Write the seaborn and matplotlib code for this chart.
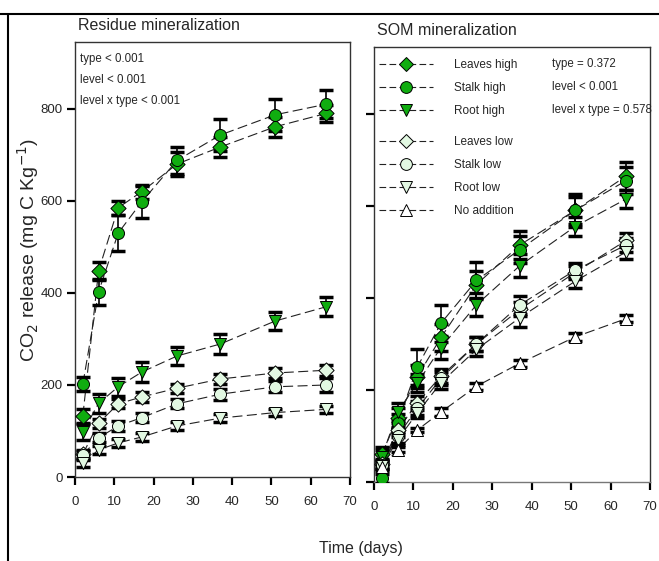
import matplotlib
matplotlib.use("Agg")
import matplotlib.pyplot as plt
from matplotlib.lines import Line2D
import seaborn as sns
import pandas as pd

days = [2, 6, 11, 17, 26, 37, 51, 64]

# Residue mineralization
res_leaves_high = [133, 448, 585, 620, 680, 717, 761, 790]
res_stalk_high = [202, 402, 530, 598, 688, 743, 787, 810]
res_root_high = [98, 160, 196, 228, 263, 289, 339, 370]
res_leaves_low = [50, 117, 159, 174, 193, 213, 226, 232]
res_stalk_low = [48, 85, 111, 129, 159, 180, 196, 200]
res_root_low = [30, 59, 74, 87, 111, 128, 140, 147]

res_err_leaves_high = [15, 20, 15, 15, 25, 22, 22, 18]
res_err_stalk_high = [15, 28, 40, 35, 30, 35, 35, 30]
res_err_root_high = [18, 20, 20, 22, 20, 22, 20, 20]
res_err_leaves_low = [8, 10, 10, 10, 10, 10, 10, 12]
res_err_stalk_low = [8, 10, 10, 10, 10, 12, 12, 15]
res_err_root_low = [8, 8, 8, 8, 8, 8, 8, 8]

# SOM mineralization
som_leaves_high = [60, 140, 229, 314, 429, 515, 590, 665]
som_stalk_high = [8, 128, 250, 345, 438, 505, 590, 655]
som_root_high = [55, 152, 215, 292, 385, 470, 555, 615]
som_leaves_low = [40, 113, 172, 230, 300, 375, 455, 525]
som_stalk_low = [38, 100, 160, 225, 300, 385, 460, 515]
som_root_low = [35, 92, 150, 216, 288, 357, 436, 500]
som_no_addition = [33, 70, 113, 152, 208, 258, 315, 355]

som_err_leaves_high = [15, 20, 25, 30, 30, 30, 30, 30]
som_err_stalk_high = [10, 20, 40, 40, 40, 30, 35, 30]
som_err_root_high = [15, 20, 20, 25, 25, 25, 20, 20]
som_err_leaves_low = [10, 15, 15, 15, 15, 15, 15, 15]
som_err_stalk_low = [10, 15, 15, 15, 15, 20, 15, 15]
som_err_root_low = [10, 12, 12, 15, 15, 20, 15, 15]
som_err_no_addition = [5, 5, 5, 8, 8, 8, 8, 8]

series_names = ["Leaves high", "Stalk high", "Root high",
                "Leaves low", "Stalk low", "Root low", "No addition"]

GREEN = "#10ad10"
LIGHT = "#e2f8e2"
WHITE = "#ffffff"
style = {
    "Leaves high": ("D", GREEN),
    "Stalk high": ("o", GREEN),
    "Root high": ("v", GREEN),
    "Leaves low": ("D", LIGHT),
    "Stalk low": ("o", LIGHT),
    "Root low": ("v", LIGHT),
    "No addition": ("^", WHITE),
}

res = {
    "Leaves high": (res_leaves_high, res_err_leaves_high),
    "Stalk high": (res_stalk_high, res_err_stalk_high),
    "Root high": (res_root_high, res_err_root_high),
    "Leaves low": (res_leaves_low, res_err_leaves_low),
    "Stalk low": (res_stalk_low, res_err_stalk_low),
    "Root low": (res_root_low, res_err_root_low),
}
som = {
    "Leaves high": (som_leaves_high, som_err_leaves_high),
    "Stalk high": (som_stalk_high, som_err_stalk_high),
    "Root high": (som_root_high, som_err_root_high),
    "Leaves low": (som_leaves_low, som_err_leaves_low),
    "Stalk low": (som_stalk_low, som_err_stalk_low),
    "Root low": (som_root_low, som_err_root_low),
    "No addition": (som_no_addition, som_err_no_addition),
}

sns.set_theme(style="white")
FONT = ["Liberation Sans", "DejaVu Sans"]
plt.rcParams["font.family"] = FONT

fig = plt.figure(figsize=(6.59, 5.61), dpi=100)
ax1 = fig.add_axes([0.1138, 0.1497, 0.4173, 0.7754])
ax2 = fig.add_axes([0.5675, 0.1408, 0.4188, 0.7754])


def draw(ax, data):
    for name, (vals, errs) in data.items():
        mk, fc = style[name]
        df = pd.DataFrame({"day": days, "val": vals})
        sns.lineplot(data=df, x="day", y="val", ax=ax, color="#222222",
                     linewidth=0.8, legend=False, zorder=2)
        ax.lines[-1].set_dashes((9, 4))
        ax.errorbar(days, vals, yerr=errs, fmt="none", ecolor="black",
                    elinewidth=1.2, capsize=5, capthick=2.5, zorder=3)
        ms = 60 if mk == "D" else 75
        sns.scatterplot(data=df, x="day", y="val", ax=ax, marker=mk,
                        s=ms, color=fc, edgecolor="black", linewidth=0.7,
                        legend=False, zorder=4)


draw(ax1, res)
draw(ax2, som)

for ax in (ax1, ax2):
    ax.set_xlim(0, 70)
    ax.set_ylim(0, 945)
    ax.set_xticks(range(0, 71, 10))
    ax.set_yticks(range(0, 801, 200))
    ax.set_xlabel("")
    ax.set_ylabel("")
    ax.tick_params(axis="both", direction="out", length=6, width=1.6,
                   color="black", labelsize=9.5, bottom=True, left=True)
    ax.tick_params(axis="x", pad=8)
    ax.tick_params(axis="y", pad=3)
    for sp in ax.spines.values():
        sp.set_color("#333333")
        sp.set_linewidth(1.0)

ax2.set_yticklabels([])
ax2.spines["bottom"].set_color("#777777")

ax1.set_title("Residue mineralization", loc="left", fontsize=11.5, pad=9,
              x=0.01)
ax2.set_title("SOM mineralization", loc="left", fontsize=11.5, pad=9,
              x=0.01)

for i, t in enumerate(["type < 0.001", "level < 0.001", "level x type < 0.001"]):
    ax1.text(0.02, 0.975 - i * 0.048, t, transform=ax1.transAxes,
             fontsize=8.3, va="top", ha="left")
for i, t in enumerate(["type = 0.372", "level < 0.001", "level x type = 0.578"]):
    ax2.text(0.645, 0.975 - i * 0.053, t, transform=ax2.transAxes,
             fontsize=8.3, va="top", ha="left")


def handle(name):
    mk, fc = style[name]
    return Line2D([0], [0], color="#222222", linewidth=0.8, dashes=(6, 3),
                  marker=mk, markersize=8.5 if mk != "D" else 7.5,
                  markerfacecolor=fc, markeredgecolor="black",
                  markeredgewidth=0.7)


hi = series_names[:3]
lo = series_names[3:]
kw = dict(loc="upper left", frameon=False, fontsize=8.5,
          handlelength=4.6, handletextpad=1.8, labelspacing=0.95,
          borderaxespad=0.0)
leg1 = ax2.legend([handle(n) for n in hi], hi, bbox_to_anchor=(0.0, 0.984), **kw)
ax2.add_artist(leg1)
ax2.legend([handle(n) for n in lo], lo, bbox_to_anchor=(0.0, 0.807), **kw)

fig.text(0.547, 0.022, "Time (days)", ha="center", va="center", fontsize=11.5)
fig.text(0.042, 0.555, "CO$_2$ release (mg C Kg$^{-1}$)", rotation=90,
         ha="center", va="center", fontsize=14)

fig.add_artist(Line2D([0, 1], [1 - 14 / 561, 1 - 14 / 561], color="black",
                      linewidth=1.5, transform=fig.transFigure))
fig.add_artist(Line2D([8 / 659, 8 / 659], [0, 1 - 14 / 561], color="black",
                      linewidth=1.5, transform=fig.transFigure))

fig.savefig("out.png", dpi=100)
